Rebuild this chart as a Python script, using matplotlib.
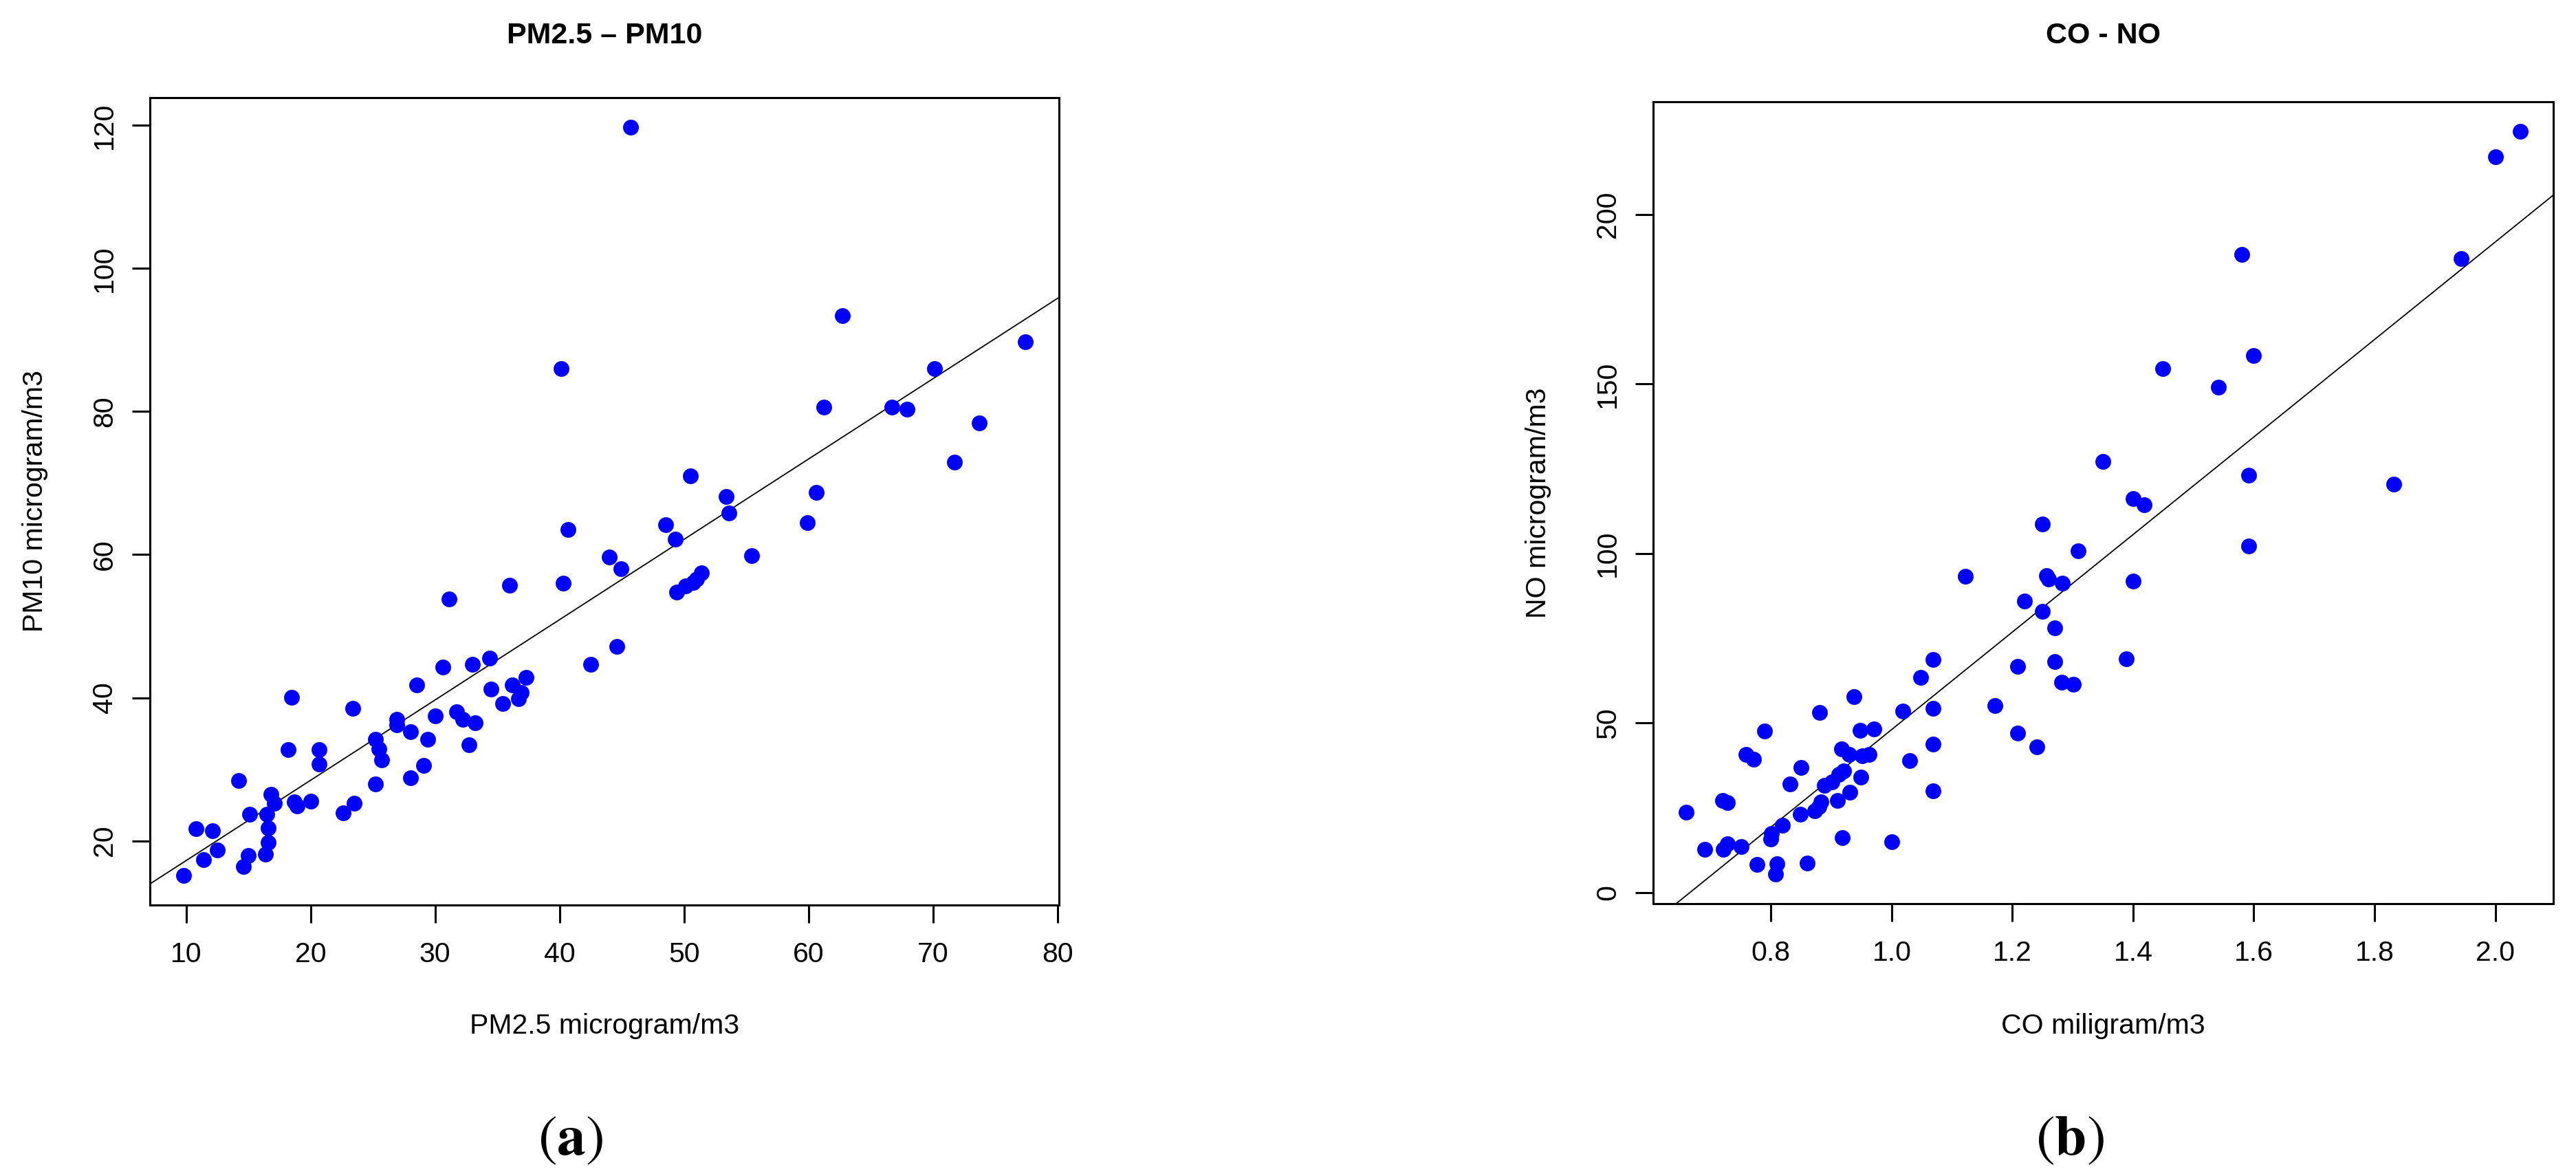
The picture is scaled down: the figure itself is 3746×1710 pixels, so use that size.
import matplotlib
matplotlib.use("Agg")
import matplotlib.pyplot as plt

# ---------------- data ----------------
pm25 = [9.8, 10.8, 11.4, 12.1, 12.5, 14.2, 14.6, 15.0, 15.1, 16.4, 16.5, 16.6, 16.6, 16.8, 17.1,
        18.2, 18.5, 18.7, 18.9, 20.0, 20.7, 20.7, 22.6, 23.4, 23.5, 25.2, 25.2, 25.5, 25.7,
        26.9, 26.9, 28.0, 28.0, 28.5, 29.1, 29.4, 30.0, 30.6, 31.1, 31.7, 32.2, 32.7, 33.0,
        33.2, 34.4, 34.5, 35.4, 36.0, 36.2, 36.7, 36.9, 37.3, 40.1, 40.3, 40.7, 42.5, 44.0,
        44.6, 44.9, 45.7, 48.5, 49.3, 49.4, 50.1, 50.5, 50.7, 51.0, 51.4, 53.4, 53.6, 55.4,
        59.9, 60.6, 61.2, 62.7, 66.7, 67.9, 70.1, 71.7, 73.7, 77.4]
pm10 = [15.2, 21.7, 17.4, 21.4, 18.7, 28.4, 16.4, 17.9, 23.7, 18.1, 23.7, 21.8, 19.8, 26.5, 25.2,
        32.7, 40.1, 25.4, 24.9, 25.5, 32.7, 30.7, 23.9, 38.5, 25.2, 27.9, 34.2, 32.8, 31.3,
        37.0, 36.2, 35.2, 28.8, 41.8, 30.5, 34.2, 37.5, 44.3, 53.8, 38.0, 37.0, 33.4, 44.7,
        36.5, 45.5, 41.2, 39.2, 55.7, 41.8, 39.9, 40.7, 42.8, 86.0, 56.0, 63.5, 44.7, 59.7,
        47.2, 58.0, 119.7, 64.2, 62.2, 54.8, 55.6, 71.0, 56.1, 56.6, 57.5, 68.1, 65.8, 59.9,
        64.5, 68.7, 80.6, 93.4, 80.6, 80.3, 86.0, 72.9, 78.4, 89.8]

co = [0.660, 0.690, 0.720, 0.721, 0.728, 0.728, 0.751, 0.759, 0.771, 0.777, 0.789, 0.800,
      0.801, 0.808, 0.810, 0.819, 0.831, 0.849, 0.850, 0.860, 0.872, 0.879, 0.881, 0.883,
      0.889, 0.901, 0.910, 0.912, 0.917, 0.918, 0.920, 0.929, 0.931, 0.938, 0.948, 0.949,
      0.951, 0.962, 0.971, 1.000, 1.018, 1.030, 1.048, 1.068, 1.068, 1.068, 1.068, 1.122,
      1.171, 1.209, 1.209, 1.220, 1.240, 1.250, 1.250, 1.257, 1.260, 1.270, 1.270, 1.281,
      1.283, 1.301, 1.309, 1.350, 1.389, 1.400, 1.400, 1.418, 1.449, 1.541, 1.580, 1.591,
      1.591, 1.599, 1.832, 1.943, 2.000, 2.041]
no = [23.8, 12.8, 27.2, 12.8, 26.5, 14.3, 13.5, 40.8, 39.3, 8.4, 47.7, 15.9,
      17.4, 5.5, 8.6, 19.9, 32.0, 23.2, 36.9, 8.8, 24.1, 25.4, 53.2, 26.7,
      31.6, 32.7, 27.2, 34.9, 42.4, 16.3, 35.8, 40.8, 29.6, 57.8, 47.9, 34.0,
      40.4, 40.8, 48.3, 15.0, 53.6, 38.9, 63.4, 30.0, 43.7, 54.3, 68.7, 93.2,
      55.2, 47.0, 66.7, 85.9, 43.0, 83.0, 108.8, 93.4, 92.5, 68.2, 78.1, 62.0,
      91.2, 61.4, 100.7, 127.2, 68.9, 91.8, 116.3, 114.3, 154.5, 149.0, 188.3, 123.2,
      102.2, 158.5, 120.5, 187.0, 217.0, 224.5]

# fitted lines (intercept, slope)
fit_pm = (6.0, 1.123)
fit_co = (-95.7, 143.8)

pm_xticks = [10, 20, 30, 40, 50, 60, 70, 80]
pm_yticks = [20, 40, 60, 80, 100, 120]
co_xticks = [0.8, 1.0, 1.2, 1.4, 1.6, 1.8, 2.0]
co_xticklabels = ["0.8", "1.0", "1.2", "1.4", "1.6", "1.8", "2.0"]
co_yticks = [0, 50, 100, 150, 200]

titles = ["PM2.5 \u2013 PM10", "CO - NO"]
xlabels = ["PM2.5 microgram/m3", "CO miligram/m3"]
ylabels = ["PM10 microgram/m3", "NO microgram/m3"]
letters = ["a", "b"]

# ---------------- figure ----------------
plt.rcParams["font.family"] = ["Liberation Sans", "DejaVu Sans"]
plt.rcParams["mathtext.fontset"] = "stix"

W, H = 3746, 1710
fig = plt.figure(figsize=(W / 100, H / 100), dpi=100)

# axes boxes in pixels: left, right, top, bottom
boxes = [(218, 1540, 142, 1316), (2404, 3713, 148, 1314)]
axes = []
for (l, r, t, b) in boxes:
    ax = fig.add_axes([l / W, 1 - b / H, (r - l) / W, (b - t) / H])
    axes.append(ax)

datasets = [(pm25, pm10, fit_pm), (co, no, fit_co)]
FS = 29.5
for i, ax in enumerate(axes):
    x, y, (b0, b1) = datasets[i]
    ax.plot(x, y, "o", color="#0000ff", ms=16.5, mec="none", zorder=3)
    ax.margins(0.04)
    ax.autoscale_view()
    ax.set_xlim(ax.get_xlim())
    ax.set_ylim(ax.get_ylim())
    ax.axline((0, b0), slope=b1, color="black", lw=1.3, zorder=2)
    for s in ax.spines.values():
        s.set_linewidth(2.2)
    ax.tick_params(axis="both", direction="out", length=18.7, width=2.2,
                   labelsize=FS, colors="black")
    ax.tick_params(axis="x", pad=19.5)
    ax.tick_params(axis="y", pad=15, labelrotation=90)
    for lab in ax.get_yticklabels():
        lab.set_va("center")

axes[0].set_xticks(pm_xticks)
axes[0].set_yticks(pm_yticks)
axes[1].set_xticks(co_xticks)
axes[1].set_xticklabels(co_xticklabels)
axes[1].set_yticks(co_yticks)
for ax in axes:
    for lab in ax.get_yticklabels():
        lab.set_va("center")

for i, (l, r, t, b) in enumerate(boxes):
    cx = (l + r) / 2
    cy = (t + b) / 2
    fig.text(cx / W, 1 - 63 / H, titles[i], ha="center", va="baseline",
             fontsize=31, fontweight="bold")
    fig.text(cx / W, 1 - 1503 / H, xlabels[i], ha="center", va="baseline",
             fontsize=FS)
    fig.text((l - 156) / W, 1 - cy / H, ylabels[i], rotation=90,
             rotation_mode="anchor", ha="center", va="baseline", fontsize=FS)
    fig.text((cx - 49) / W, 1 - 1660 / H, "(" + r"$\mathbf{" + letters[i] + "}$" + ")",
             ha="center", va="center", fontsize=60, family="STIXGeneral")

fig.savefig("out.png", dpi=100, facecolor="white")
